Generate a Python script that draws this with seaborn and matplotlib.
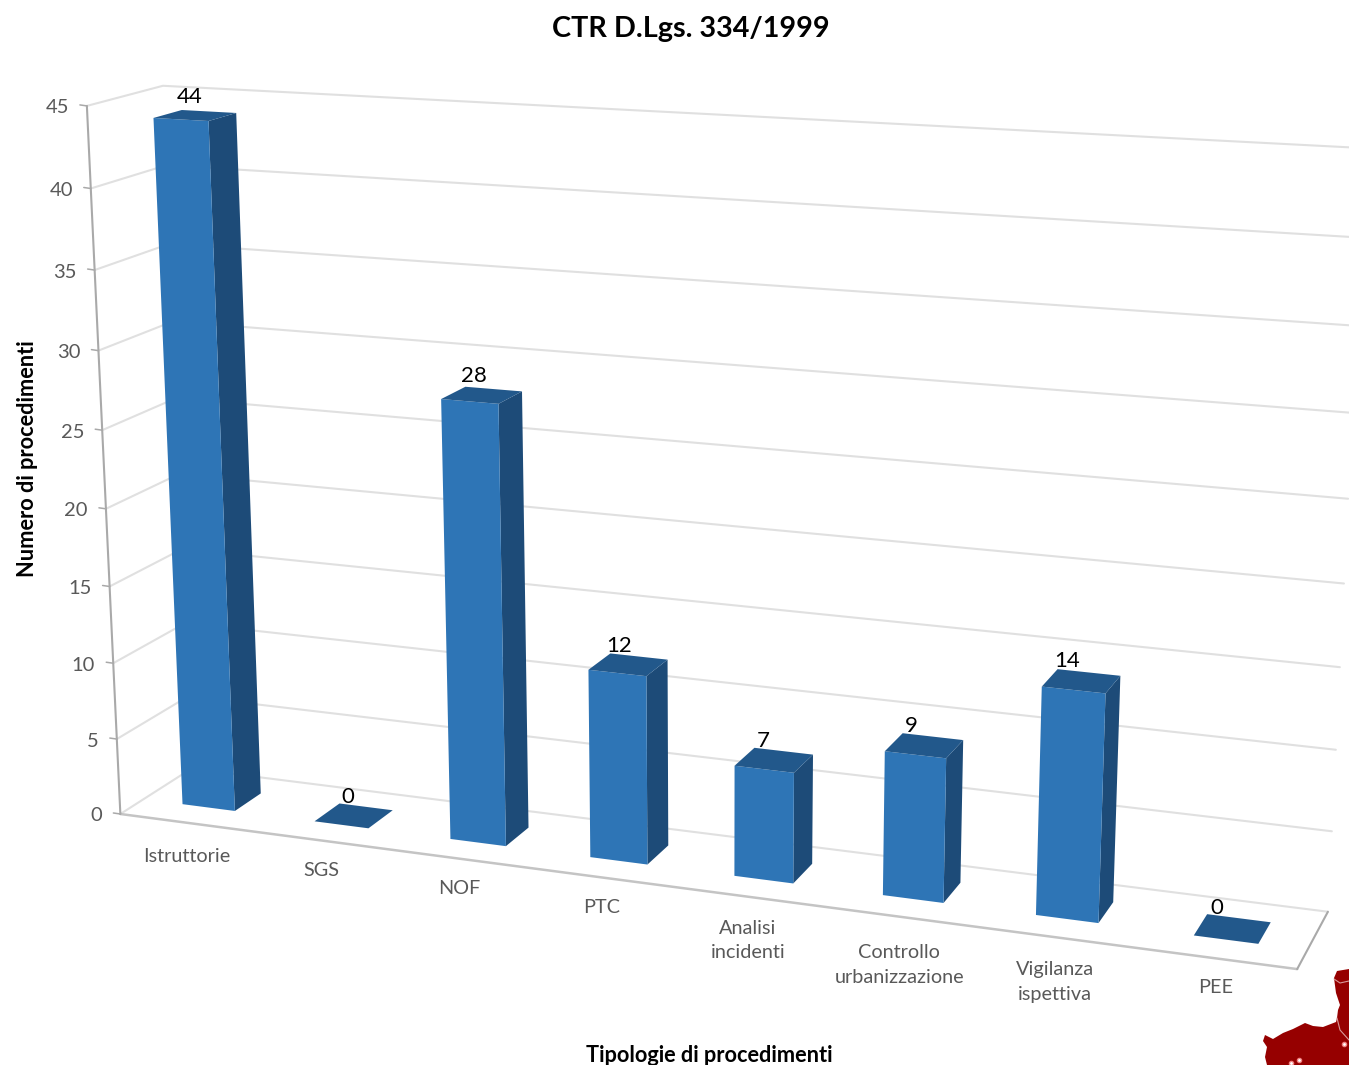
import numpy as np
import pandas as pd
import matplotlib
matplotlib.use("Agg")
import matplotlib.pyplot as plt
import seaborn as sns
from matplotlib.patches import Polygon
from matplotlib.transforms import IdentityTransform, Transform

categorie = ["Istruttorie", "SGS", "NOF", "PTC", "Analisi\nincidenti",
             "Controllo\nurbanizzazione", "Vigilanza\nispettiva", "PEE"]
procedimenti = [44, 0, 28, 12, 7, 9, 14, 0]
tacche_y = [0, 5, 10, 15, 20, 25, 30, 35, 40, 45]

W, H = 1349, 1065
BAR_WIDTH = 0.40
Z_FRONT, Z_BACK = 0.32, 0.70
X0, X1 = -0.5, 7.5
Y_TOP = 45

# nudges in pixels for the category labels, the original placement is not regular
label_dy = [25, 22, 21, 22, 23, 28, 24, 21]

# camera calibration: (category pos, value, depth) -> pixel
CALIB = [
    (X0, 0, 0, 121, 813), (X0, 5, 0, 118, 738), (X0, 40, 0, 91, 188), (X0, 45, 0, 87, 106),
    (X0, 0, 1, 191, 768), (X0, 45, 1, 163, 86),
    (X1, 0, 0, 1297, 968), (X1, 0, 1, 1328, 912), (X1, 5, 1, 1332, 831),
    (X1, 10, 1, 1336, 749), (X1, 15, 1, 1340, 666), (X1, 45, 1, 1366, 149),
    (-0.2, 44, Z_FRONT, 152, 118), (0.2, 44, Z_FRONT, 208, 121),
    (0.2, 44, Z_BACK, 237, 113), (-0.2, 44, Z_BACK, 182, 110),
    (-0.2, 0, Z_FRONT, 182, 804), (0.2, 0, Z_FRONT, 234, 811), (0.2, 0, Z_BACK, 262, 793),
    (2.8, 12, Z_FRONT, 588, 670), (3.2, 12, Z_FRONT, 647, 676),
    (3.2, 12, Z_BACK, 668, 659), (2.8, 12, Z_BACK, 610, 655),
    (2.8, 0, Z_FRONT, 590, 858), (3.2, 0, Z_FRONT, 648, 865), (3.2, 0, Z_BACK, 669, 845),
    (5.8, 14, Z_FRONT, 1042, 687), (6.2, 14, Z_FRONT, 1106, 693),
    (6.2, 14, Z_BACK, 1120, 675), (5.8, 14, Z_BACK, 1056, 669),
    (5.8, 0, Z_FRONT, 1036, 916), (6.2, 0, Z_FRONT, 1098, 923), (6.2, 0, Z_BACK, 1113, 902),
    (6.8, 0, Z_FRONT, 1194, 936), (7.2, 0, Z_FRONT, 1258, 945),
    (7.2, 0, Z_BACK, 1271, 922), (6.8, 0, Z_BACK, 1207, 914),
    (0.8, 0, Z_FRONT, 315, 822), (1.2, 0, Z_FRONT, 368, 829),
    (1.2, 0, Z_BACK, 393, 810), (0.8, 0, Z_BACK, 338, 805),
]


def fit_camera(calib):
    # plain DLT, scaled so the value axis does not dominate
    rows = []
    for x, y, z, u, v in calib:
        p = [x / 8, y / 45, z, 1]
        rows.append(p + [0, 0, 0, 0] + [-u / W * c for c in p])
        rows.append([0, 0, 0, 0] + p + [-v / H * c for c in p])
    _, _, vt = np.linalg.svd(np.array(rows))
    return vt[-1].reshape(3, 4)


CAM = fit_camera(CALIB)


def project(x, y, z):
    # returns display pixels, y up
    x, y, z = np.broadcast_arrays(np.asarray(x, float), np.asarray(y, float), np.asarray(z, float))
    p = np.stack([x / 8, y / 45, z, np.ones_like(x)], axis=-1)
    q = p @ CAM.T
    return np.stack([q[..., 0] / q[..., 2] * W, H - q[..., 1] / q[..., 2] * H], axis=-1)


class DepthPlane(Transform):
    """Data coords (category, value) on a plane at fixed depth -> display."""
    input_dims = 2
    output_dims = 2

    def __init__(self, z):
        super().__init__()
        self.z = z

    def transform_non_affine(self, values):
        values = np.asarray(values)
        return project(values[:, 0], values[:, 1], self.z)


sns.set_style("white")
plt.rcParams["font.family"] = ["Lato", "DejaVu Sans"]

fig, ax = plt.subplots(figsize=(W / 100, H / 100), dpi=100)
ax.set_position([0, 0, 1, 1])

df = pd.DataFrame({"tipologia": categorie, "numero": procedimenti})
sns.barplot(data=df, x="tipologia", y="numero", color="#2e75b6", saturation=1,
            width=BAR_WIDTH, linewidth=0, ax=ax)
ax.set_xlim(-5, 12)
ax.set_ylim(-5, 60)
ax.axis("off")

px = IdentityTransform()
GRID = "#e0e0e0"
AXIS = "#a9a9a9"


def line3d(xs, ys, zs, color, lw, zorder=0.5):
    pts = project(xs, ys, zs)
    ax.plot(pts[:, 0], pts[:, 1], color=color, lw=lw, transform=px, zorder=zorder,
            clip_on=True, solid_capstyle="round")


# walls
for v in tacche_y:
    line3d([X0, X0, X1], [v, v, v], [0, 1, 1], GRID, 1.5)

# floor and value axis
line3d([X0, X1], [0, 0], [0, 0], "#c4c4c4", 1.8, zorder=0.6)
line3d([X1, X1], [0, 0], [0, 1], AXIS, 1.5, zorder=0.6)
line3d([X0, X0], [0, Y_TOP], [0, 0], AXIS, 1.5, zorder=0.7)

for v in tacche_y:
    a = project(X0, v, 0)
    ax.plot([a[0] - 7, a[0]], [a[1] + 1, a[1]], color=AXIS, lw=1.1, transform=px, zorder=0.7)
    ax.text(a[0] - 18, a[1] - 2, str(v), transform=px, ha="right", va="center",
            fontsize=14.5, color="#595959")

# bar faces, geometry taken from what seaborn drew
front = DepthPlane(Z_FRONT)
for bar, nome, n, dy in zip(ax.patches, categorie, procedimenti, label_dy):
    x0 = bar.get_x()
    x1 = x0 + bar.get_width()
    h = bar.get_height()
    bar.set_transform(front)
    bar.set_clip_on(False)
    bar.set_zorder(2)

    side = project([x1, x1, x1, x1], [0, h, h, 0], [Z_FRONT, Z_FRONT, Z_BACK, Z_BACK])
    top = project([x0, x1, x1, x0], [h, h, h, h], [Z_FRONT, Z_FRONT, Z_BACK, Z_BACK])
    ax.add_patch(Polygon(side, closed=True, fc="#1d4b78", ec="none", transform=px, zorder=1.9))
    ax.add_patch(Polygon(top, closed=True, fc="#22588b", ec="none", transform=px, zorder=2.1))

    xm = (x0 + x1) / 2
    lab = project(xm - 0.14, h, Z_BACK)
    ax.text(lab[0], lab[1] + 7 + 0.15 * h, str(n), transform=px, ha="center", va="center",
            fontsize=16, color="black", zorder=3)

    # category label hangs under the front floor edge
    edge = project(xm, 0, 0)
    ax.text(edge[0] + 1, edge[1] - dy, nome, transform=px, ha="center", va="top",
            fontsize=14.3, color="#595959", linespacing=1.55)

# red map corner from the slide behind the chart
map_x = [1349, 1337, 1334, 1336, 1340, 1338, 1337, 1336, 1323, 1313, 1305, 1293,
         1283, 1273, 1265, 1263, 1267, 1265, 1267, 1349]
map_y = [969, 971, 978, 993, 1005, 1010, 1018, 1022, 1027, 1026, 1023, 1029,
         1033, 1039, 1035, 1041, 1047, 1057, 1065, 1065]
ax.add_patch(Polygon(np.c_[map_x, H - np.array(map_y)], closed=True, fc="#960000", ec="none",
                     transform=px, zorder=1))
confine_x = [1334, 1340, 1349]
confine_y = [979, 983, 981]
ax.plot(confine_x, H - np.array(confine_y), color="#d99a9a", lw=0.8, transform=px, zorder=1.1)
confine_x2 = [1337, 1340, 1349]
confine_y2 = [1018, 1030, 1040]
ax.plot(confine_x2, H - np.array(confine_y2), color="#d99a9a", lw=0.8, transform=px, zorder=1.1)
citta_x = [1344, 1299, 1291]
citta_y = [1044, 1060, 1063]
ax.plot(citta_x, H - np.array(citta_y), ls="none", marker="o", ms=3, mfc="white", mec="#f08080",
        mew=1, transform=px, zorder=1.2)

fig.text(691 / W, 1 - 29 / H, "CTR D.Lgs. 334/1999", ha="center", va="center",
         fontsize=20.7, fontweight="bold", color="black")
fig.text(28 / W, 1 - 459 / H, "Numero di procedimenti", ha="center", va="center",
         rotation=90, fontsize=15.7, fontweight="bold", color="black")
fig.text(709 / W, 1 - 1056 / H, "Tipologie di procedimenti", ha="center", va="center",
         fontsize=15.7, fontweight="bold", color="black")

fig.savefig("out.png", dpi=100)
